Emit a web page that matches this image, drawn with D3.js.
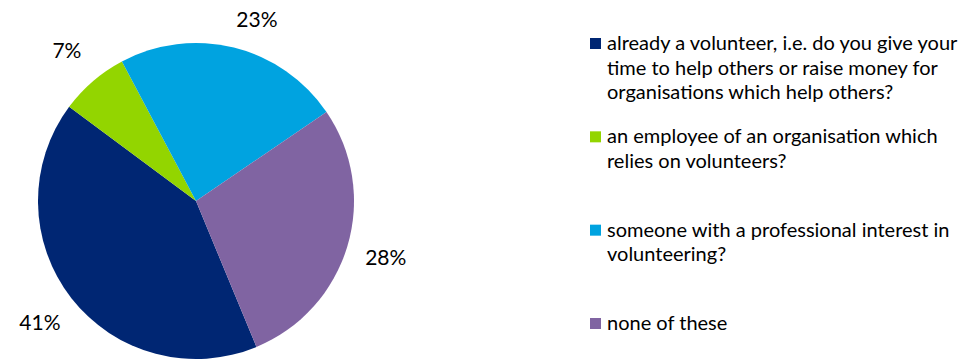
<!DOCTYPE html>
<html>
<head>
<meta charset="utf-8">
<script src="https://cdn.jsdelivr.net/npm/d3@7"></script>
<style>
  html, body { margin: 0; padding: 0; background: #ffffff; }
  svg { display: block; }
  text { font-family: Lato, "Open Sans", "Liberation Sans", sans-serif; fill: #000; }
</style>
</head>
<body>
<svg id="chart" width="966" height="360"></svg>
<script>
// Survey answers: "Are you ..."
const categories = [
  "already a volunteer, i.e. do you give your time to help others or raise money for organisations which help others?",
  "an employee of an organisation which relies on volunteers?",
  "someone with a professional interest in volunteering?",
  "none of these"
];
const legendLines = [
  ["already a volunteer, i.e. do you give your", "time to help others or raise money for", "organisations which help others?"],
  ["an employee of an organisation which", "relies on volunteers?"],
  ["someone with a professional interest in", "volunteering?"],
  ["none of these"]
];
const values = [41, 7, 23, 28];
const colors = ["#002673", "#93D500", "#00A3E0", "#8064A2"];

const svg = d3.select("#chart");
const cx = 196, cy = 201, radius = 158;

const startDeg = 157.5;
const pie = d3.pie()
  .sort(null)
  .value(d => d)
  .startAngle(startDeg * Math.PI / 180)
  .endAngle((startDeg + 360) * Math.PI / 180);

const arcs = pie(values);
const arc = d3.arc().innerRadius(0).outerRadius(radius);

const g = svg.append("g").attr("transform", `translate(${cx},${cy})`);

g.selectAll("path.slice")
  .data(arcs)
  .join("path")
  .attr("class", "slice")
  .attr("d", arc)
  .attr("fill", (d, i) => colors[i]);

// Percentage labels just outside each slice, kept inside the drawing area
const labelR = radius + 40;
const labelFont = 21;
const minCenterY = 20 - cy;   // label centre may not rise above this
const labelPos = d => {
  const a = (d.startAngle + d.endAngle) / 2;
  let x = labelR * Math.sin(a);
  let y = -labelR * Math.cos(a);
  if (y < minCenterY) {
    // pull the label down and a little along the slice's outer side
    const shift = minCenterY - y;
    y = minCenterY;
    x += shift * Math.sign(Math.sin(a)) * 1.2;
  }
  return [x, y];
};
g.selectAll("text.pct")
  .data(arcs)
  .join("text")
  .attr("class", "pct")
  .attr("x", d => labelPos(d)[0])
  .attr("y", d => labelPos(d)[1])
  .attr("dy", "0.35em")
  .attr("text-anchor", "middle")
  .style("font-size", labelFont + "px")
  .text(d => d.data + "%");

// Legend
const legendY = d3.scalePoint().domain(d3.range(categories.length)).range([43, 323]);
const lineH = 24.5;
const legend = svg.append("g");
const items = legend.selectAll("g.item")
  .data(categories)
  .join("g")
  .attr("class", "item")
  .attr("transform", (d, i) => `translate(590,${legendY(i)})`);

items.append("rect")
  .attr("x", 0).attr("y", -5)
  .attr("width", 11).attr("height", 11)
  .attr("fill", (d, i) => colors[i]);

items.each(function(d, i) {
  const t = d3.select(this).append("text")
    .attr("x", 17)
    .attr("y", 0)
    .style("font-size", "20px");
  legendLines[i].forEach((line, k) => {
    t.append("tspan").attr("x", 17).attr("y", k * lineH).attr("dy", "0.35em").text(line);
  });
});
</script>
</body>
</html>
